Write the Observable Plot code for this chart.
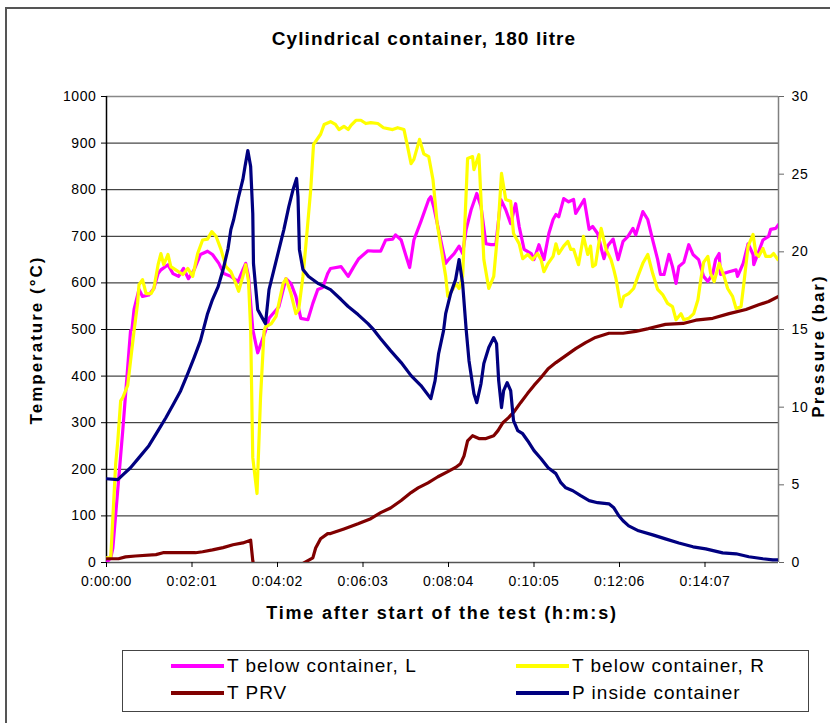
<!DOCTYPE html>
<html>
<head>
<meta charset="utf-8">
<script src="https://cdn.jsdelivr.net/npm/d3@7"></script>
<script src="https://cdn.jsdelivr.net/npm/@observablehq/plot@0.6"></script>
<style>
  body { margin: 0; background: #fff; font-family: "Liberation Sans", Arial, sans-serif; }
  #wrap { position: relative; width: 830px; height: 723px; overflow: hidden; background: #fff; }
  #frame { position: absolute; left: 5px; top: 7px; width: 900px; height: 800px; border: 2px solid #555; box-sizing: border-box; }
  #plot { position: absolute; left: 0; top: 0; }
  .title { position: absolute; left: 0; width: 848px; top: 28px; text-align: center; font-weight: bold; font-size: 19px; letter-spacing: 1.1px; color: #000; }
  .xtitle { position: absolute; left: 0; width: 884px; top: 603px; text-align: center; font-weight: bold; font-size: 18px; letter-spacing: 1.8px; color: #000; }
  .ytitle { position: absolute; width: 300px; text-align: center; font-weight: bold; font-size: 17px; letter-spacing: 2px; color: #000; transform: rotate(-90deg); transform-origin: center center; line-height: 20px; }
  #legend { position: absolute; left: 122px; top: 650px; width: 687px; height: 62px; border: 1px solid #444; box-sizing: border-box; background: #fff; }
  .item { position: absolute; height: 24px; }
  .swatch { position: absolute; left: 0; top: 10px; width: 53px; height: 4px; }
  .lab { position: absolute; left: 56px; top: 0; white-space: nowrap; font-size: 19px; letter-spacing: 1px; line-height: 24px; color: #000; }
</style>
</head>
<body>
<div id="wrap">
  <div id="frame"></div>
  <div id="plot"></div>
  <div class="title">Cylindrical container, 180 litre</div>
  <div class="ytitle" style="left:-113px; top:330px;">Temperature (°C)</div>
  <div class="ytitle" style="left:669px; top:336px;">Pressure (bar)</div>
  <div class="xtitle">Time after start of the test (h:m:s)</div>
  <div id="legend"></div>
</div>
<script>
// ---- data: [time in seconds, value] ----
const seriesL = [[0,0],[6,10],[9,31],[23,283],[34,497],[36,500],[39,543],[46,586],[51,571],[60,574],[67,588],[73,620],[77,628],[87,639],[94,620],[102,614],[109,631],[116,609],[124,628],[133,661],[143,668],[150,661],[159,642],[166,620],[176,614],[186,603],[193,628],[197,642],[201,614],[207,500],[214,450],[225,497],[230,524],[244,549],[254,609],[261,599],[268,571],[275,524],[285,521],[292,556],[299,586],[306,590],[313,620],[317,631],[332,635],[342,614],[350,635],[357,652],[370,669],[378,668],[388,668],[395,692],[405,694],[409,703],[417,692],[424,657],[429,633],[435,692],[445,732],[456,779],[459,785],[463,764],[473,692],[480,642],[484,650],[492,663],[499,679],[504,663],[509,715],[516,757],[524,792],[530,764],[537,684],[544,682],[551,682],[558,779],[565,757],[572,727],[579,770],[584,721],[591,672],[601,663],[605,650],[612,682],[619,650],[626,706],[632,736],[636,747],[640,742],[647,781],[654,774],[661,779],[664,749],[676,779],[683,715],[688,721],[695,706],[702,663],[704,652],[709,679],[717,694],[724,650],[731,689],[738,700],[745,717],[749,703],[759,753],[766,736],[773,692],[780,650],[784,618],[789,618],[796,661],[801,635],[806,599],[810,635],[817,644],[824,682],[830,661],[838,650],[845,614],[851,603],[858,620],[862,650],[867,663],[869,618],[881,624],[891,628],[893,614],[901,642],[908,684],[915,661],[916,639],[922,663],[929,692],[937,700],[940,715],[947,717],[951,725]];

const seriesR = [[0,10],[6,10],[13,212],[16,261],[20,347],[23,354],[30,380],[39,497],[44,556],[46,596],[51,607],[56,577],[63,577],[67,588],[73,639],[77,663],[81,639],[87,661],[91,635],[98,628],[108,618],[115,631],[122,614],[129,663],[136,692],[143,694],[149,710],[155,700],[162,672],[169,635],[176,624],[183,599],[187,582],[193,614],[197,639],[201,603],[204,500],[207,225],[213,148],[218,354],[223,497],[225,506],[233,512],[240,528],[250,599],[254,609],[261,577],[268,534],[272,543],[278,614],[282,679],[289,800],[293,897],[303,919],[308,940],[317,946],[324,940],[329,929],[336,936],[342,929],[346,938],[353,949],[360,949],[367,942],[374,944],[384,942],[392,933],[405,929],[412,933],[421,929],[426,893],[431,856],[435,865],[443,908],[449,877],[456,871],[462,822],[468,727],[473,679],[480,614],[483,571],[490,586],[494,599],[499,588],[504,614],[511,867],[518,871],[520,843],[527,875],[534,650],[541,588],[548,614],[554,715],[559,835],[565,779],[572,775],[576,706],[584,684],[589,652],[596,661],[603,650],[610,663],[615,650],[619,624],[625,642],[632,657],[636,684],[640,663],[647,679],[653,689],[657,672],[661,672],[668,639],[675,700],[681,661],[685,679],[688,635],[692,639],[700,717],[707,672],[714,650],[718,628],[721,609],[728,549],[732,571],[739,577],[746,588],[752,614],[759,642],[766,661],[773,620],[780,586],[787,575],[794,556],[801,549],[806,521],[813,534],[817,521],[824,524],[831,534],[837,564],[841,607],[845,644],[851,657],[855,620],[860,603],[867,642],[874,614],[879,588],[886,571],[891,545],[898,549],[902,599],[908,679],[915,704],[919,663],[923,657],[929,674],[933,657],[940,657],[944,663],[950,650]];

const seriesPRV = [[0,8],[17,8],[27,12],[41,14],[70,17],[80,21],[126,21],[136,23],[150,27],[165,32],[179,38],[193,42],[204,48],[207,4],[210,-20],[270,-20],[278,-2],[292,10],[296,31],[303,51],[313,62],[317,62],[336,72],[356,83],[374,94],[388,107],[402,117],[417,133],[431,150],[441,160],[455,171],[469,184],[483,195],[494,204],[501,212],[506,229],[511,261],[518,272],[527,266],[537,266],[548,272],[554,283],[561,300],[569,311],[576,322],[586,343],[596,363],[605,380],[615,397],[625,416],[636,429],[650,444],[664,459],[678,472],[692,483],[711,492],[731,492],[749,496],[767,502],[791,511],[816,513],[834,520],[858,524],[881,534],[905,543],[923,553],[937,560],[951,571]];

const seriesP = [[0,5.39],[16,5.33],[25,5.72],[34,6.10],[46,6.75],[60,7.52],[73,8.49],[84,9.32],[95,10.22],[105,11.06],[115,12.16],[124,13.19],[133,14.28],[143,16.02],[150,16.93],[158,17.76],[165,18.86],[172,20.21],[176,21.43],[180,22.08],[187,23.56],[193,24.66],[196,25.49],[200,26.52],[204,25.49],[207,22.47],[208,19.25],[214,16.28],[221,15.70],[225,15.38],[230,17.57],[237,18.86],[244,20.14],[251,21.43],[258,22.91],[264,24.01],[269,24.72],[271,23.56],[273,20.14],[278,18.86],[286,18.41],[300,17.95],[317,17.57],[332,16.93],[342,16.48],[356,15.96],[370,15.38],[378,14.99],[388,14.41],[402,13.64],[417,12.87],[431,12.03],[445,11.39],[459,10.55],[465,11.71],[470,13.45],[477,14.93],[480,16.02],[487,17.31],[494,18.21],[499,19.50],[504,17.95],[509,14.99],[513,12.99],[520,10.87],[524,10.29],[530,11.52],[534,12.81],[541,13.84],[548,14.48],[552,14.09],[555,11.71],[559,9.97],[562,11.06],[567,11.58],[572,11.06],[576,9.13],[582,8.49],[589,8.29],[596,7.84],[605,7.20],[615,6.68],[625,6.10],[636,5.72],[643,5.14],[650,4.81],[660,4.62],[671,4.30],[683,3.98],[695,3.85],[711,3.78],[718,3.52],[725,3.01],[731,2.69],[739,2.36],[753,2.04],[773,1.78],[791,1.52],[810,1.26],[830,1.01],[848,0.88],[872,0.62],[891,0.56],[909,0.37],[929,0.24],[943,0.17],[951,0.17]];

const tempTicks = [0,100,200,300,400,500,600,700,800,900,1000];
const pressureTicks = [0,5,10,15,20,25,30];
const timeTicks = [0,121,242,363,484,605,726,847];
const timeEnd = 951;
const tempMax = 1000, pressMax = 30;

const legendItems = [
  {label: "T below container, L", color: "#FF00FF", col: 0, row: 0},
  {label: "T below container, R", color: "#FFFF00", col: 1, row: 0},
  {label: "T PRV", color: "#800000", col: 0, row: 1},
  {label: "P inside container", color: "#000080", col: 1, row: 1}
];

const p2t = p => p * tempMax / pressMax;
const fmtTime = s => `${Math.floor(s / 3600)}:${String(Math.floor((s % 3600) / 60)).padStart(2, "0")}:${String(s % 60).padStart(2, "0")}`;

const chart = Plot.plot({
  width: 830,
  height: 640,
  marginLeft: 106,
  marginRight: 52,
  marginTop: 96,
  marginBottom: 78,
  x: {domain: [0, timeEnd]},
  y: {domain: [0, tempMax]},
  style: {fontFamily: "'Liberation Sans', Arial, sans-serif", fontSize: "14px", background: "transparent", color: "#000", letterSpacing: "0.6px"},
  marks: [
    Plot.ruleY(tempTicks.filter(d => d > 0 && d < tempMax), {stroke: "#1a1a1a", strokeWidth: 1}),
    Plot.ruleY([tempMax], {stroke: "#888", strokeWidth: 1.5}),
    Plot.ruleY([0], {stroke: "#555", strokeWidth: 1.5}),
    Plot.ruleX([timeEnd], {stroke: "#808080", strokeWidth: 1.5}),
    Plot.ruleX([0], {stroke: "#000", strokeWidth: 1.5}),
    Plot.axisY(tempTicks, {anchor: "left", tickSize: 5, tickPadding: 5, label: null, tickFormat: d => String(d)}),
    Plot.axisY(pressureTicks.map(p2t), {anchor: "right", tickSize: 5, tickPadding: 8, label: null, tickFormat: d => String(Math.round(d * pressMax / tempMax)), stroke: "#666"}),
    Plot.axisX(timeTicks, {anchor: "bottom", tickSize: 5, tickPadding: 9, label: null, tickFormat: fmtTime}),
    Plot.line(seriesL, {x: d => d[0], y: d => d[1], stroke: "#FF00FF", strokeWidth: 3.2, clip: true}),
    Plot.line(seriesR, {x: d => d[0], y: d => d[1], stroke: "#FFFF00", strokeWidth: 3.2, clip: true}),
    Plot.line(seriesPRV, {x: d => d[0], y: d => d[1], stroke: "#800000", strokeWidth: 3.2, clip: true}),
    Plot.line(seriesP, {x: d => d[0], y: d => p2t(d[1]), stroke: "#000080", strokeWidth: 3.2, clip: true})
  ]
});
document.getElementById("plot").appendChild(chart);

const legend = document.getElementById("legend");
for (const it of legendItems) {
  const div = document.createElement("div");
  div.className = "item";
  div.style.left = (it.col === 0 ? 48 : 393) + "px";
  div.style.top = (it.row === 0 ? 3 : 30) + "px";
  const sw = document.createElement("div");
  sw.className = "swatch";
  sw.style.background = it.color;
  const lab = document.createElement("div");
  lab.className = "lab";
  lab.textContent = it.label;
  div.appendChild(sw);
  div.appendChild(lab);
  legend.appendChild(div);
}
</script>
</body>
</html>
